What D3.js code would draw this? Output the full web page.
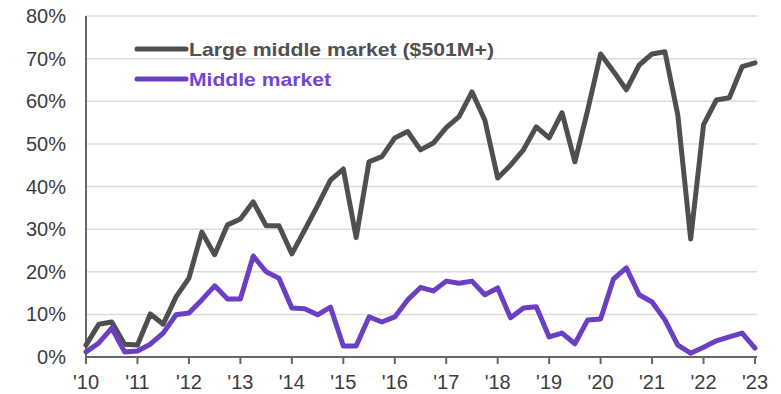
<!DOCTYPE html>
<html>
<head>
<meta charset="utf-8">
<script src="https://cdn.jsdelivr.net/npm/d3@7"></script>
<style>
  html, body { margin: 0; padding: 0; background: #fff; }
  svg { display: block; font-family: "Liberation Sans", Arial, sans-serif; }
</style>
</head>
<body>
<svg id="chart" width="781" height="394"></svg>
<script>
const tickLabels = ["'10","'11","'12","'13","'14","'15","'16","'17","'18","'19","'20","'21","'22","'23"];
const yTicks = [0, 10, 20, 30, 40, 50, 60, 70, 80];
const seriesNames = ["Large middle market ($501M+)", "Middle market"];
const largeMiddle = [2.8, 7.7, 8.2, 3.0, 2.8, 10.1, 7.7, 14.1, 18.5, 29.3, 24.0, 31.0, 32.4, 36.4, 30.8, 30.8,
  24.2, 29.8, 35.5, 41.5, 44.1, 28.0, 45.8, 47.0, 51.4, 52.9, 48.6, 50.2, 53.8, 56.4, 62.2, 55.6,
  42.0, 45.0, 48.6, 54.0, 51.4, 57.3, 45.8, 58.0, 71.1, 67.0, 62.7, 68.5, 71.1, 71.6, 56.8, 27.7,
  54.5, 60.3, 60.8, 68.1, 69.0];
const middle = [1.2, 3.3, 6.8, 1.2, 1.4, 3.0, 5.6, 9.9, 10.3, 13.4, 16.7, 13.6, 13.6, 23.7, 20.0, 18.5,
  11.5, 11.3, 9.9, 11.7, 2.6, 2.6, 9.4, 8.2, 9.4, 13.4, 16.3, 15.5, 17.8, 17.3, 17.8, 14.6,
  16.2, 9.2, 11.5, 11.8, 4.7, 5.6, 3.1, 8.7, 8.9, 18.3, 20.9, 14.6, 12.9, 8.7, 2.8, 0.9,
  2.3, 3.8, 4.7, 5.6, 2.1];

const svg = d3.select("#chart");
const x = d3.scaleLinear().domain([0, 52]).range([86, 755]);
const y = d3.scaleLinear().domain([0, 80]).range([357, 16]);

const grayC = "#4e4f51", purpleC = "#6a3fc4";

// gridlines
svg.append("g").selectAll("line").data(yTicks.filter(d => d > 0)).join("line")
  .attr("x1", 86).attr("x2", 757)
  .attr("y1", d => y(d)).attr("y2", d => y(d))
  .attr("stroke", "#dcdcdc").attr("stroke-width", 1.5);

// y labels
svg.append("g").selectAll("text").data(yTicks).join("text")
  .attr("x", 66).attr("y", d => y(d) + 7)
  .attr("text-anchor", "end").attr("font-size", 20).attr("fill", "#3c3c3c")
  .text(d => d + "%");

// axes lines
svg.append("line").attr("x1", 86).attr("x2", 86).attr("y1", 16).attr("y2", 358)
  .attr("stroke", "#666").attr("stroke-width", 2);
svg.append("line").attr("x1", 85).attr("x2", 757).attr("y1", 357).attr("y2", 357)
  .attr("stroke", "#666").attr("stroke-width", 2);

// x ticks + labels
const tickIdx = tickLabels.map((_, i) => i * 4);
svg.append("g").selectAll("line").data(tickIdx).join("line")
  .attr("x1", d => x(d)).attr("x2", d => x(d)).attr("y1", 357).attr("y2", 364)
  .attr("stroke", "#666").attr("stroke-width", 2);
svg.append("g").selectAll("text").data(tickLabels).join("text")
  .attr("x", (d, i) => x(i * 4)).attr("y", 389)
  .attr("text-anchor", "middle").attr("font-size", 20).attr("fill", "#3c3c3c")
  .text(d => d);

// lines
const line = d3.line().x((d, i) => x(i)).y(d => y(d));
svg.append("path").datum(largeMiddle).attr("d", line)
  .attr("fill", "none").attr("stroke", grayC).attr("stroke-width", 5)
  .attr("stroke-linejoin", "round").attr("stroke-linecap", "round");
svg.append("path").datum(middle).attr("d", line)
  .attr("fill", "none").attr("stroke", purpleC).attr("stroke-width", 5)
  .attr("stroke-linejoin", "round").attr("stroke-linecap", "round");

// legend
const legend = [
  { name: seriesNames[0], color: grayC, text: "#505050", y: 49, w: 305 },
  { name: seriesNames[1], color: purpleC, text: "#7446d0", y: 79, w: 142 }
];
legend.forEach(l => {
  svg.append("line").attr("x1", 137).attr("x2", 186).attr("y1", l.y).attr("y2", l.y)
    .attr("stroke", l.color).attr("stroke-width", 5).attr("stroke-linecap", "round");
  svg.append("text").attr("x", 189).attr("y", l.y + 7)
    .attr("font-size", 19).attr("font-weight", "bold").attr("fill", l.text)
    .attr("textLength", l.w).attr("lengthAdjust", "spacingAndGlyphs")
    .text(l.name);
});
</script>
</body>
</html>
